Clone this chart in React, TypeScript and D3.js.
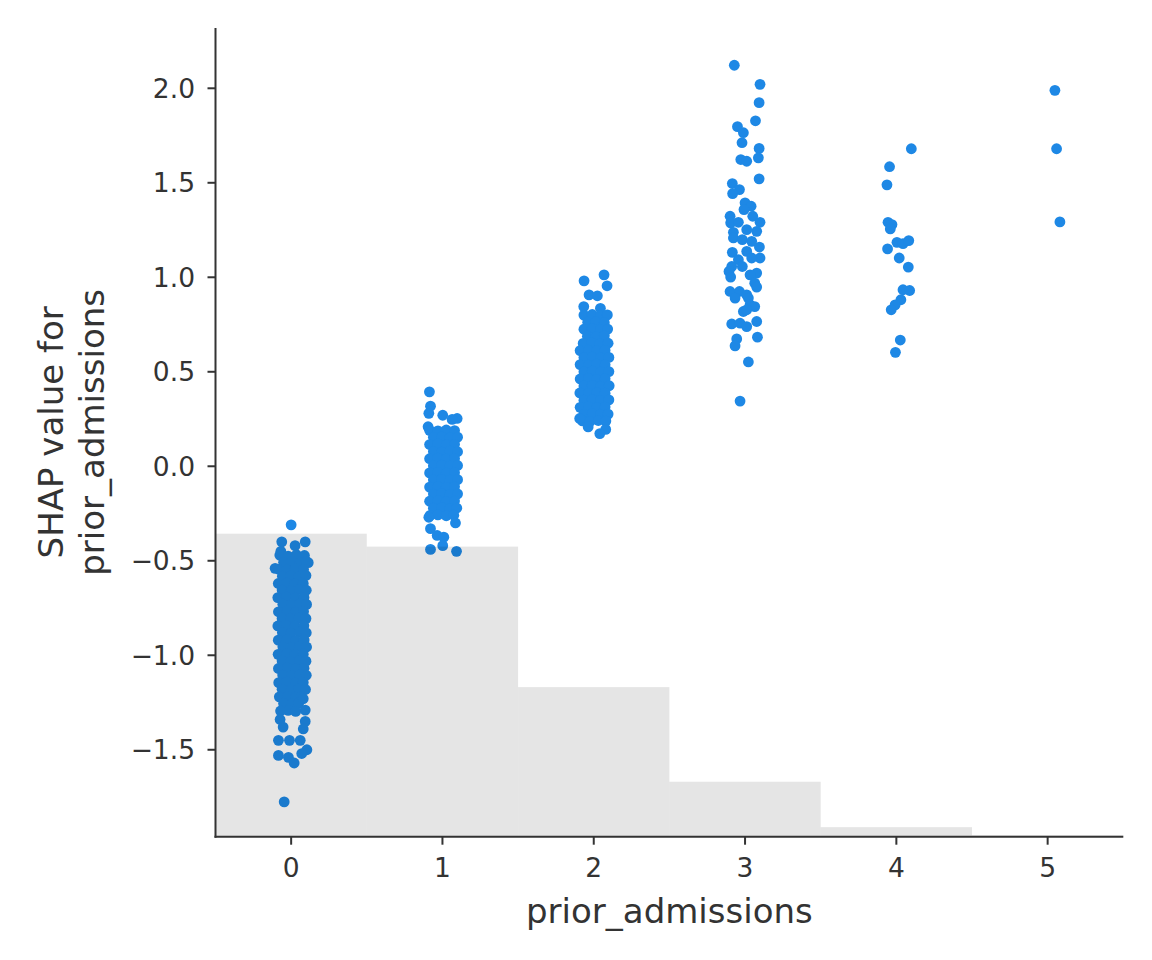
import { useEffect, useRef } from 'react';
import * as d3 from 'd3';

// feature value (with jitter) and SHAP value, one array per prior_admissions level
const points0: [number, number][] = [
  [0.0, -0.31], [-0.062, -0.40], [0.093, -0.40], [0.026, -0.42], [-0.068, -0.45], [-0.106, -0.54], [0.113, -0.51],
  [-0.075, -0.47], [-0.02, -0.475], [0.035, -0.468], [0.088, -0.472],
  [-0.05, -0.508], [0.005, -0.505], [0.06, -0.51], [0.1, -0.503],
  [-0.082, -0.545], [-0.028, -0.548], [0.028, -0.542], [0.082, -0.546],
  [-0.058, -0.582], [-0.002, -0.58], [0.052, -0.585], [0.098, -0.578],
  [-0.085, -0.62], [-0.03, -0.618], [0.025, -0.622], [0.08, -0.62],
  [-0.06, -0.655], [0.0, -0.658], [0.055, -0.652], [0.1, -0.656],
  [-0.088, -0.695], [-0.032, -0.692], [0.028, -0.697], [0.085, -0.694],
  [-0.055, -0.73], [0.002, -0.733], [0.058, -0.728], [0.102, -0.731],
  [-0.084, -0.77], [-0.026, -0.768], [0.03, -0.772], [0.082, -0.769],
  [-0.06, -0.805], [-0.004, -0.808], [0.052, -0.803], [0.098, -0.806],
  [-0.088, -0.845], [-0.03, -0.842], [0.026, -0.847], [0.084, -0.844],
  [-0.058, -0.88], [0.0, -0.883], [0.056, -0.878], [0.1, -0.881],
  [-0.085, -0.92], [-0.028, -0.917], [0.03, -0.922], [0.086, -0.919],
  [-0.055, -0.955], [0.004, -0.958], [0.058, -0.953], [0.102, -0.956],
  [-0.086, -0.995], [-0.03, -0.992], [0.025, -0.997], [0.08, -0.994],
  [-0.06, -1.03], [-0.002, -1.033], [0.054, -1.028], [0.098, -1.031],
  [-0.084, -1.07], [-0.026, -1.067], [0.03, -1.072], [0.085, -1.069],
  [-0.056, -1.105], [0.002, -1.108], [0.057, -1.103], [0.1, -1.106],
  [-0.082, -1.145], [-0.03, -1.142], [0.028, -1.147], [0.08, -1.144],
  [-0.06, -1.18], [0.0, -1.183], [0.052, -1.178], [0.095, -1.181],
  [-0.078, -1.22], [-0.025, -1.217], [0.03, -1.222], [0.07, -1.219],
  [-0.05, -1.255], [0.004, -1.258], [0.05, -1.253],
  [-0.07, -1.295], [-0.02, -1.292], [0.03, -1.297],
  [0.093, -1.29], [0.08, -1.23], [-0.073, -1.34], [-0.053, -1.38], [0.093, -1.35], [0.08, -1.39],
  [-0.084, -1.45], [-0.011, -1.45], [0.06, -1.45], [0.104, -1.50], [0.07, -1.52],
  [-0.084, -1.53], [-0.018, -1.54], [0.02, -1.57], [-0.046, -1.776],
];

const points1: [number, number][] = [
  [0.914, 0.394], [0.921, 0.318], [0.91, 0.28], [1.002, 0.27], [1.097, 0.253], [1.064, 0.248], [0.905, 0.209],
  [0.915, 0.19], [0.97, 0.187], [1.025, 0.192], [1.08, 0.189],
  [0.94, 0.153], [0.995, 0.156], [1.05, 0.151], [1.1, 0.154],
  [0.915, 0.115], [0.97, 0.118], [1.025, 0.113], [1.08, 0.116],
  [0.94, 0.078], [0.995, 0.075], [1.05, 0.08], [1.1, 0.077],
  [0.915, 0.04], [0.97, 0.043], [1.025, 0.038], [1.08, 0.041],
  [0.94, 0.003], [0.995, 0.006], [1.05, 0.001], [1.1, 0.004],
  [0.915, -0.035], [0.97, -0.032], [1.025, -0.037], [1.08, -0.034],
  [0.94, -0.072], [0.995, -0.069], [1.05, -0.074], [1.1, -0.071],
  [0.915, -0.11], [0.97, -0.107], [1.025, -0.112], [1.08, -0.109],
  [0.94, -0.147], [0.995, -0.144], [1.05, -0.149], [1.1, -0.146],
  [0.915, -0.185], [0.97, -0.182], [1.025, -0.187], [1.08, -0.184],
  [0.94, -0.222], [0.995, -0.219], [1.05, -0.224], [1.095, -0.221],
  [0.918, -0.26], [0.97, -0.257], [1.025, -0.262], [1.075, -0.259],
  [0.91, -0.27], [1.086, -0.30], [0.921, -0.33], [0.965, -0.366], [1.009, -0.375],
  [1.002, -0.42], [0.921, -0.44], [1.093, -0.45],
];

const points2: [number, number][] = [
  [2.068, 1.013], [1.936, 0.981], [2.088, 0.955], [1.969, 0.907], [2.024, 0.902], [1.934, 0.845], [2.044, 0.836],
  [1.935, 0.8], [1.99, 0.803], [2.045, 0.798], [2.09, 0.801],
  [1.96, 0.762], [2.015, 0.765], [2.07, 0.76],
  [1.935, 0.725], [1.99, 0.728], [2.045, 0.723], [2.092, 0.726],
  [1.958, 0.688], [2.015, 0.685], [2.07, 0.69],
  [1.93, 0.65], [1.985, 0.653], [2.04, 0.648], [2.095, 0.651],
  [1.91, 0.612], [1.965, 0.615], [2.02, 0.61], [2.075, 0.613],
  [1.935, 0.575], [1.99, 0.578], [2.045, 0.573], [2.1, 0.576],
  [1.91, 0.538], [1.965, 0.535], [2.02, 0.54], [2.075, 0.537],
  [1.935, 0.5], [1.99, 0.503], [2.045, 0.498], [2.1, 0.501],
  [1.91, 0.462], [1.965, 0.465], [2.02, 0.46], [2.075, 0.463],
  [1.935, 0.425], [1.99, 0.428], [2.045, 0.423], [2.102, 0.426],
  [1.908, 0.388], [1.965, 0.385], [2.02, 0.39], [2.075, 0.387],
  [1.935, 0.35], [1.99, 0.353], [2.045, 0.348], [2.1, 0.351],
  [1.91, 0.312], [1.965, 0.315], [2.02, 0.31], [2.075, 0.313],
  [1.935, 0.275], [1.99, 0.278], [2.045, 0.273], [2.095, 0.276],
  [1.925, 0.24], [1.975, 0.237], [2.03, 0.242], [2.08, 0.239],
  [1.907, 0.253], [1.963, 0.208], [2.079, 0.195], [2.04, 0.173],
];

const points3: [number, number][] = [
  [2.929, 2.122], [3.099, 2.021], [3.093, 1.924], [3.069, 1.828], [2.95, 1.797], [2.989, 1.765],
  [2.98, 1.712], [3.093, 1.682], [3.088, 1.632], [2.972, 1.623], [3.011, 1.614], [3.093, 1.521],
  [2.916, 1.496], [2.963, 1.464], [2.918, 1.443], [3.0, 1.394], [3.04, 1.376], [2.993, 1.358],
  [2.901, 1.323], [3.051, 1.323], [3.099, 1.291], [2.905, 1.288], [2.956, 1.291], [3.077, 1.243],
  [2.923, 1.238], [3.011, 1.252], [2.923, 1.208], [2.982, 1.199], [3.044, 1.19], [3.095, 1.16],
  [2.916, 1.132], [3.011, 1.137], [3.099, 1.102], [2.956, 1.093], [3.044, 1.102], [2.912, 1.057],
  [2.894, 1.031], [2.982, 1.057], [3.077, 1.022], [3.033, 1.013], [2.905, 1.001], [3.064, 0.969],
  [3.077, 0.948], [2.901, 0.925], [2.963, 0.925], [3.011, 0.907], [2.934, 0.89], [3.022, 0.89],
  [3.033, 0.854], [3.064, 0.845], [2.989, 0.819], [3.011, 0.828], [2.912, 0.753], [2.967, 0.757],
  [3.077, 0.766], [3.011, 0.739], [3.082, 0.683], [2.945, 0.674], [2.934, 0.637], [3.022, 0.552],
  [2.967, 0.345],
];

const points4: [number, number][] = [
  [3.955, 1.585], [3.938, 1.489], [4.099, 1.68], [3.945, 1.291], [3.971, 1.279], [3.96, 1.256],
  [4.004, 1.185], [4.044, 1.178], [4.082, 1.194], [3.942, 1.15], [4.019, 1.102], [4.079, 1.054],
  [4.044, 0.934], [4.088, 0.93], [4.03, 0.881], [3.992, 0.854], [3.966, 0.828], [4.026, 0.668],
  [3.994, 0.603],
];

const points5: [number, number][] = [
  [5.048, 1.989], [5.059, 1.68], [5.081, 1.293],
];

// histogram of prior_admissions (bins centred on 0..5)
const binEdges = [-0.5, 0.5, 1.5, 2.5, 3.5, 4.5, 5.5];
const binCounts = [634, 607, 313, 115, 20, 3];

const xTicks = [0, 1, 2, 3, 4, 5];
const yTicks = [-1.5, -1.0, -0.5, 0.0, 0.5, 1.0, 1.5, 2.0];

const featureName = 'prior_admissions';

export default function App() {
  const svgRef = useRef<SVGSVGElement>(null);

  useEffect(() => {
    if (!svgRef.current) return;
    const svg = d3.select(svgRef.current);
    svg.selectAll('*').remove();

    const left = 215.5;
    const right = 1123.3;
    const top = 28;
    const bottom = 836.7;
    const ink = '#333333';
    const font = '"DejaVu Sans", sans-serif';

    const x = d3.scaleLinear().domain([-0.5, 5.5]).range([left, right]);
    const y = d3.scaleLinear().domain([-1.96, 2.319]).range([bottom, top]);
    const total = d3.sum(binCounts);
    const yh = d3.scaleLinear().domain([0, total]).range([bottom, top]);

    const allPoints = [...points0, ...points1, ...points2, ...points3, ...points4, ...points5];

    svg.append('g')
      .selectAll('circle')
      .data(allPoints)
      .join('circle')
      .attr('cx', d => x(d[0]))
      .attr('cy', d => y(d[1]))
      .attr('r', 5.4)
      .attr('fill', '#1E88E5');

    // histogram drawn over the dots, black at 10% like shap's twin axis
    svg.append('g')
      .selectAll('rect')
      .data(binCounts)
      .join('rect')
      .attr('x', (_, i) => x(binEdges[i]))
      .attr('width', (_, i) => x(binEdges[i + 1]) - x(binEdges[i]))
      .attr('y', d => yh(d))
      .attr('height', d => bottom - yh(d))
      .attr('fill', '#000000')
      .attr('fill-opacity', 0.1);

    // spines
    svg.append('line')
      .attr('x1', left).attr('x2', left).attr('y1', top).attr('y2', bottom + 1)
      .attr('stroke', ink).attr('stroke-width', 2);
    svg.append('line')
      .attr('x1', left - 1).attr('x2', right).attr('y1', bottom).attr('y2', bottom)
      .attr('stroke', ink).attr('stroke-width', 2);

    const xg = svg.append('g');
    xTicks.forEach(t => {
      xg.append('line')
        .attr('x1', x(t)).attr('x2', x(t)).attr('y1', bottom).attr('y2', bottom + 8)
        .attr('stroke', ink).attr('stroke-width', 2);
      xg.append('text')
        .attr('x', x(t)).attr('y', 877)
        .attr('text-anchor', 'middle')
        .attr('font-family', font).attr('font-size', 26.5).attr('fill', ink)
        .text(d3.format('d')(t));
    });

    const yg = svg.append('g');
    yTicks.forEach(t => {
      yg.append('line')
        .attr('x1', left - 8).attr('x2', left).attr('y1', y(t)).attr('y2', y(t))
        .attr('stroke', ink).attr('stroke-width', 2);
      yg.append('text')
        .attr('x', 195).attr('y', y(t) + 9.6)
        .attr('text-anchor', 'end')
        .attr('font-family', font).attr('font-size', 26.5).attr('fill', ink)
        .text(d3.format('.1f')(t));
    });

    svg.append('text')
      .attr('x', (left + right) / 2).attr('y', 922.7)
      .attr('text-anchor', 'middle')
      .attr('font-family', font).attr('font-size', 34).attr('fill', ink)
      .text(featureName);

    const yLabelLines = ['SHAP value for', featureName];
    yLabelLines.forEach((line, i) => {
      svg.append('text')
        .attr('transform', `translate(${63.3 + i * 41}, ${(top + bottom) / 2}) rotate(-90)`)
        .attr('text-anchor', 'middle')
        .attr('font-family', font).attr('font-size', 34).attr('fill', ink)
        .text(line);
    });
  }, []);

  return (
    <svg
      ref={svgRef}
      width={1152}
      height={960}
      style={{ position: 'absolute', left: 0, top: 0, background: '#ffffff' }}
    />
  );
}
